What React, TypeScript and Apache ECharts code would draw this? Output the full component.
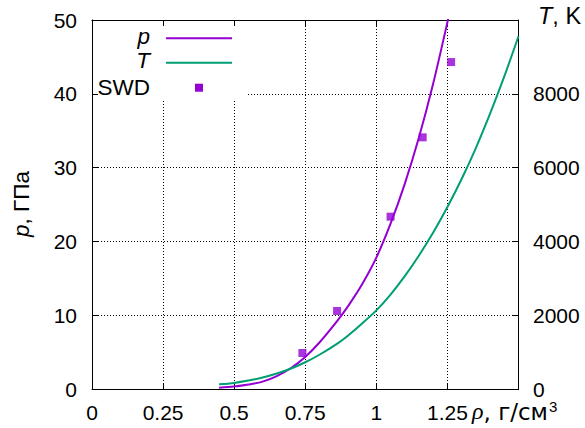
import React, { useEffect, useRef } from 'react';
import * as echarts from 'echarts';

// p(ρ) curve, GPa
const pRho = [0.447, 0.5, 0.55, 0.6, 0.65, 0.7, 0.75, 0.8, 0.864, 0.9, 0.95, 1.0, 1.05, 1.1, 1.15, 1.2, 1.25, 1.27];
const pVals = [0.18, 0.33, 0.6, 1.0, 1.75, 2.85, 4.35, 6.3, 9.3, 11.2, 14.2, 17.8, 22.4, 27.8, 34.1, 41.4, 49.7, 53.3];
// T(ρ) curve, K
const tRho = [0.447, 0.5, 0.55, 0.6, 0.65, 0.7, 0.75, 0.8, 0.864, 0.9, 0.95, 1.0, 1.05, 1.1, 1.15, 1.2, 1.25, 1.3, 1.35, 1.4, 1.45, 1.5];
const tVals = [127, 165, 228, 310, 418, 555, 725, 928, 1238, 1445, 1775, 2130, 2560, 3060, 3620, 4240, 4930, 5690, 6530, 7460, 8470, 9560];
// SWD points
const swdRho = [0.74, 0.862, 1.05, 1.163, 1.263];
const swdP = [4.88, 10.57, 23.35, 34.1, 44.3];

const xTicks = { min: 0, max: 1.5, interval: 0.25 };
const pTicks = { min: 0, max: 50, interval: 10 };
const tTicks = { min: 0, max: 10000, interval: 2000 };

const FONT = '"Liberation Sans", Arial, sans-serif';
const FS = 21;
const LFS = 22.5;
const PURPLE = '#9400d3';
const GREEN = '#009e73';

export default function App() {
  const ref = useRef<HTMLDivElement>(null);
  useEffect(() => {
    if (!ref.current) return;
    const chart = echarts.init(ref.current, null, { renderer: 'svg' });
    const tick = { show: true, inside: true, length: 6, lineStyle: { color: '#000', width: 1 } };
    const line = { show: true, onZero: false, lineStyle: { color: '#000', width: 1 } };
    const grid = { type: [1, 2] as any, color: '#000', width: 1 };
    const label = { color: '#000', fontSize: FS, fontFamily: FONT };
    chart.setOption({
      animation: false,
      backgroundColor: '#fff',
      grid: { left: 92, right: 66.5, top: 20, bottom: 39, outerBoundsMode: 'none' },
      xAxis: [
        {
          type: 'value', position: 'bottom', ...xTicks, z: 0,
          axisLine: line, axisTick: tick,
          axisLabel: { ...label, margin: 13, formatter: (v: number) => (v === 1.5 ? '' : String(v)) },
          splitLine: { show: true, lineStyle: grid },
        },
        {
          type: 'value', position: 'top', ...xTicks, z: 3,
          axisLine: line, axisTick: tick, axisLabel: { show: false }, splitLine: { show: false },
        },
      ],
      yAxis: [
        {
          type: 'value', position: 'left', ...pTicks, z: 0,
          axisLine: { show: false }, axisTick: { show: false }, axisLabel: { show: false },
          splitLine: { show: true, lineStyle: grid },
        },
        {
          type: 'value', position: 'right', ...tTicks, z: 3,
          axisLine: line, axisTick: tick,
          axisLabel: { ...label, margin: 14.5, formatter: (v: number) => (v === 10000 ? '' : String(v)) },
          splitLine: { show: false },
        },
        {
          type: 'value', position: 'left', ...pTicks, z: 3,
          axisLine: line, axisTick: tick,
          axisLabel: { ...label, margin: 15 },
          splitLine: { show: false },
        },
      ],
      series: [
        {
          name: 'p', type: 'line', xAxisIndex: 0, yAxisIndex: 0, symbol: 'none', smooth: 0.3, clip: true,
          lineStyle: { color: PURPLE, width: 2 }, z: 5,
          data: pRho.map((r, i) => [r, pVals[i]]),
        },
        {
          name: 'T', type: 'line', xAxisIndex: 0, yAxisIndex: 1, symbol: 'none', smooth: 0.3, clip: true,
          lineStyle: { color: GREEN, width: 2 }, z: 5,
          data: tRho.map((r, i) => [r, tVals[i]]),
        },
        {
          name: 'SWD', type: 'scatter', xAxisIndex: 0, yAxisIndex: 0, symbol: 'rect', symbolSize: 8,
          itemStyle: { color: PURPLE }, z: 6,
          data: swdRho.map((r, i) => [r, swdP[i]]),
        },
      ],
      graphic: [
        { type: 'rect', z: 1, silent: true, shape: { x: 93, y: 21, width: 153, height: 79 }, style: { fill: '#fff' } },
        { type: 'text', z: 10, x: 150, y: 36, style: { text: 'p', fontSize: LFS, fontStyle: 'italic', fontFamily: FONT, fill: '#000', align: 'right', verticalAlign: 'middle' } },
        { type: 'line', z: 10, shape: { x1: 166, y1: 38.3, x2: 232, y2: 38.3 }, style: { stroke: PURPLE, lineWidth: 2 } },
        { type: 'text', z: 10, x: 150, y: 60.5, style: { text: 'T', fontSize: LFS, fontStyle: 'italic', fontFamily: FONT, fill: '#000', align: 'right', verticalAlign: 'middle' } },
        { type: 'line', z: 10, shape: { x1: 166, y1: 62.7, x2: 232, y2: 62.7 }, style: { stroke: GREEN, lineWidth: 2 } },
        { type: 'text', z: 10, x: 150, y: 87, style: { text: 'SWD', fontSize: LFS, fontFamily: FONT, fill: '#000', align: 'right', verticalAlign: 'middle' } },
        { type: 'rect', z: 10, shape: { x: 195, y: 83.7, width: 8, height: 8 }, style: { fill: PURPLE } },
        {
          type: 'text', z: 10, x: 21, y: 204, rotation: Math.PI / 2,
          style: {
            text: '{i|p}, ГПа', fontSize: LFS, fontFamily: FONT, fill: '#000', align: 'center', verticalAlign: 'middle',
            rich: { i: { fontStyle: 'italic', fontSize: LFS, fontFamily: FONT } },
          },
        },
        {
          type: 'text', z: 10, x: 538, y: 15.5,
          style: {
            text: '{i|T}, K', fontSize: 23.5, fontFamily: FONT, fill: '#000', align: 'left', verticalAlign: 'middle',
            rich: { i: { fontStyle: 'italic', fontSize: 23.5, fontFamily: FONT } },
          },
        },
        {
          type: 'text', z: 10, x: 472, y: 411,
          style: {
            text: '{i|ρ}{t|, г/см}{s|3}', fill: '#000', align: 'left', verticalAlign: 'middle',
            rich: {
              i: { fontStyle: 'italic', fontSize: 24, fontFamily: '"Liberation Serif", serif', verticalAlign: 'bottom' },
              t: { fontSize: 23, fontFamily: '"DejaVu Sans", sans-serif', verticalAlign: 'bottom' },
              s: { fontSize: 15, fontFamily: FONT, verticalAlign: 'top', padding: [0, 0, 0, 1] },
            },
          },
        },
      ],
    });
    return () => chart.dispose();
  }, []);
  return <div ref={ref} style={{ position: 'fixed', left: 0, top: 0, width: 585, height: 428 }} />;
}
